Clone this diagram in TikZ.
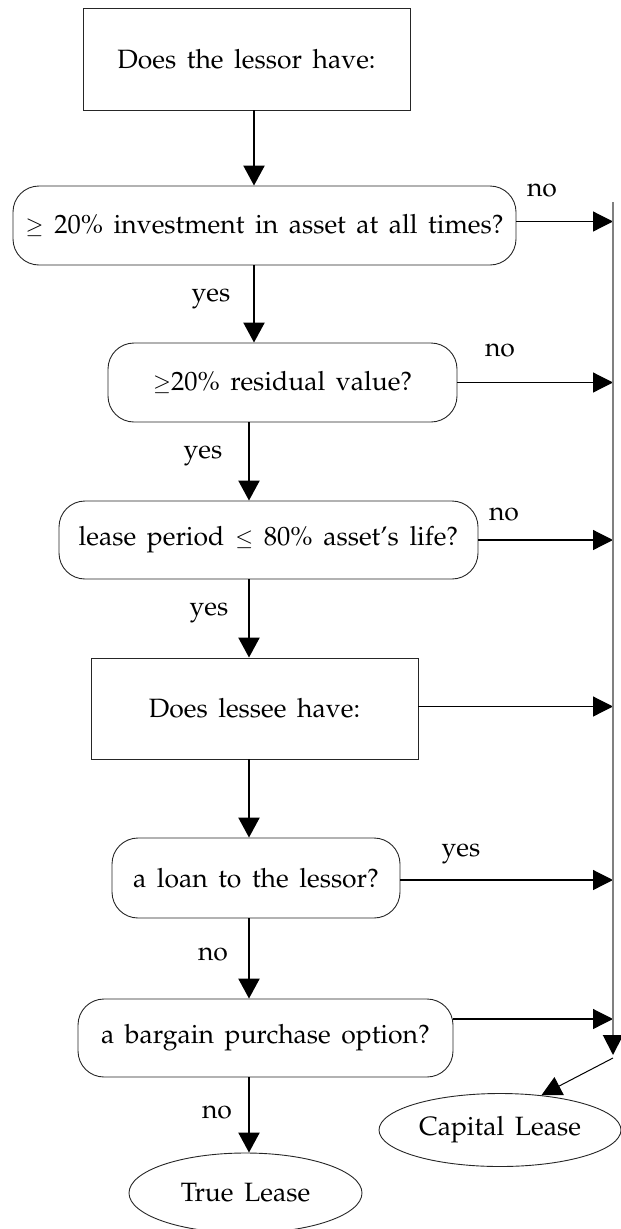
\documentclass[tikz,border=0pt]{standalone}
\usepackage[T1]{fontenc}
\usepackage{mathpazo}
\usetikzlibrary{arrows.meta,shapes.geometric}
% node text: large Palatino with slightly roomy word spacing
\protected\def\flowfont{\fontsize{26.5}{31}\selectfont\spaceskip=0.4em\relax}
% smaller relation signs, set like text glyphs
\protected\def\smgeq{{\fontsize{22}{26}\selectfont$\geq$}}
\protected\def\smleq{{\fontsize{22}{26}\selectfont$\leq$}}
\begin{document}
\begin{tikzpicture}[x=1pt,y=-1pt,
  txt/.style={font=\flowfont, inner sep=0pt},
  sqbox/.style={txt, draw=black!85, line width=0.9pt},
  rbox/.style={txt, draw=black!85, line width=0.9pt, rounded corners=26pt},
  oval/.style={txt, draw=black!85, line width=0.9pt, ellipse},
  va/.style={line width=2.3pt, -{Triangle[length=20pt,width=21pt]}},
  ha/.style={line width=1.2pt, -{Triangle[length=20pt,width=20pt]}},
  lbl/.style={txt}]
\useasboundingbox (0,0) rectangle (621,1229);

% decision boxes
\node[sqbox, minimum width=327pt, minimum height=102pt] (q0) at (246.5,59) {Does the lessor have:};
\node[rbox, minimum width=503pt, minimum height=79pt] (q1) at (264.5,225.5) {\smgeq\ 20\% investment in asset at all times?};
\node[rbox, minimum width=349pt, minimum height=79pt] (q2) at (282.5,382.5) {\smgeq20\% residual value?};
\node[rbox, minimum width=419pt, minimum height=78pt] (q3) at (268.5,540) {lease period \smleq\ 80\% asset's life?};
\node[sqbox, minimum width=327pt, minimum height=101pt] (q4) at (254.5,708.5) {Does lessee have:};
\node[rbox, minimum width=288pt, minimum height=80pt] (q5) at (256,878) {a loan to the lessor?};
\node[rbox, minimum width=375pt, minimum height=78pt] (q6) at (265.5,1038) {a bargain purchase option?};

% outcomes
\node[oval, minimum width=233pt, minimum height=80pt] (tl) at (245.5,1193) {True Lease};
\node[oval, minimum width=242pt, minimum height=73pt] (cl) at (500,1130) {Capital Lease};

% columns of the main flow and the collecting bar
\coordinate (c1) at (254,0);
\coordinate (c2) at (249,0);
\coordinate (bartop) at (613,202);
\coordinate (barend) at (613,1055);
\coordinate (barfoot) at (613,1058);

% main flow
\draw[va] (c1 |- q0.south) -- (c1 |- q1.north);
\draw[va] (c1 |- q1.south) -- (c1 |- q2.north);
\draw[va] (c2 |- q2.south) -- (c2 |- q3.north);
\draw[va] (c2 |- q3.south) -- (c2 |- q4.north);
\draw[va] (c2 |- q4.south) -- (c2 |- q5.north);
\draw[va] (c2 |- q5.south) -- (c2 |- q6.north);
\draw[va] (c2 |- q6.south) -- (c2 |- tl.north);

% branches to the bar
\draw[ha] ([yshift=4pt]q1.east) -- ([yshift=4pt]q1.east -| bartop);
\draw[ha] (q2.east) -- (q2.east -| bartop);
\draw[ha] (q3.east) -- (q3.east -| bartop);
\draw[ha] ([yshift=2pt]q4.east) -- ([yshift=2pt]q4.east -| bartop);
\draw[ha] ([yshift=-2pt]q5.east) -- ([yshift=-2pt]q5.east -| bartop);
\draw[ha] ([yshift=19pt]q6.east) -- ([yshift=19pt]q6.east -| bartop);

% collecting bar down to the capital lease
\draw[line width=2pt, draw=black!50, -{Triangle[length=20pt,width=20pt,color=black]}] (bartop) -- (barend);
\draw[line width=1pt, -{Triangle[length=20pt,width=20pt]}] (barfoot) -- (cl.40);

% branch labels
\node[lbl] (n1) at (542,190) {no};
\node[lbl] (n2) at (500,350) {no};
\node[lbl] (n3) at (504,514) {no};
\node[lbl] (y5) at (461,854) {yes};
\node[lbl] (y1) at (211,299) {yes};
\node[lbl] (y2) at (203,456) {yes};
\node[lbl] (y3) at (209,613) {yes};
\node[lbl] (n5) at (213,954) {no};
\node[lbl] (n6) at (217,1112) {no};
\end{tikzpicture}
\end{document}
